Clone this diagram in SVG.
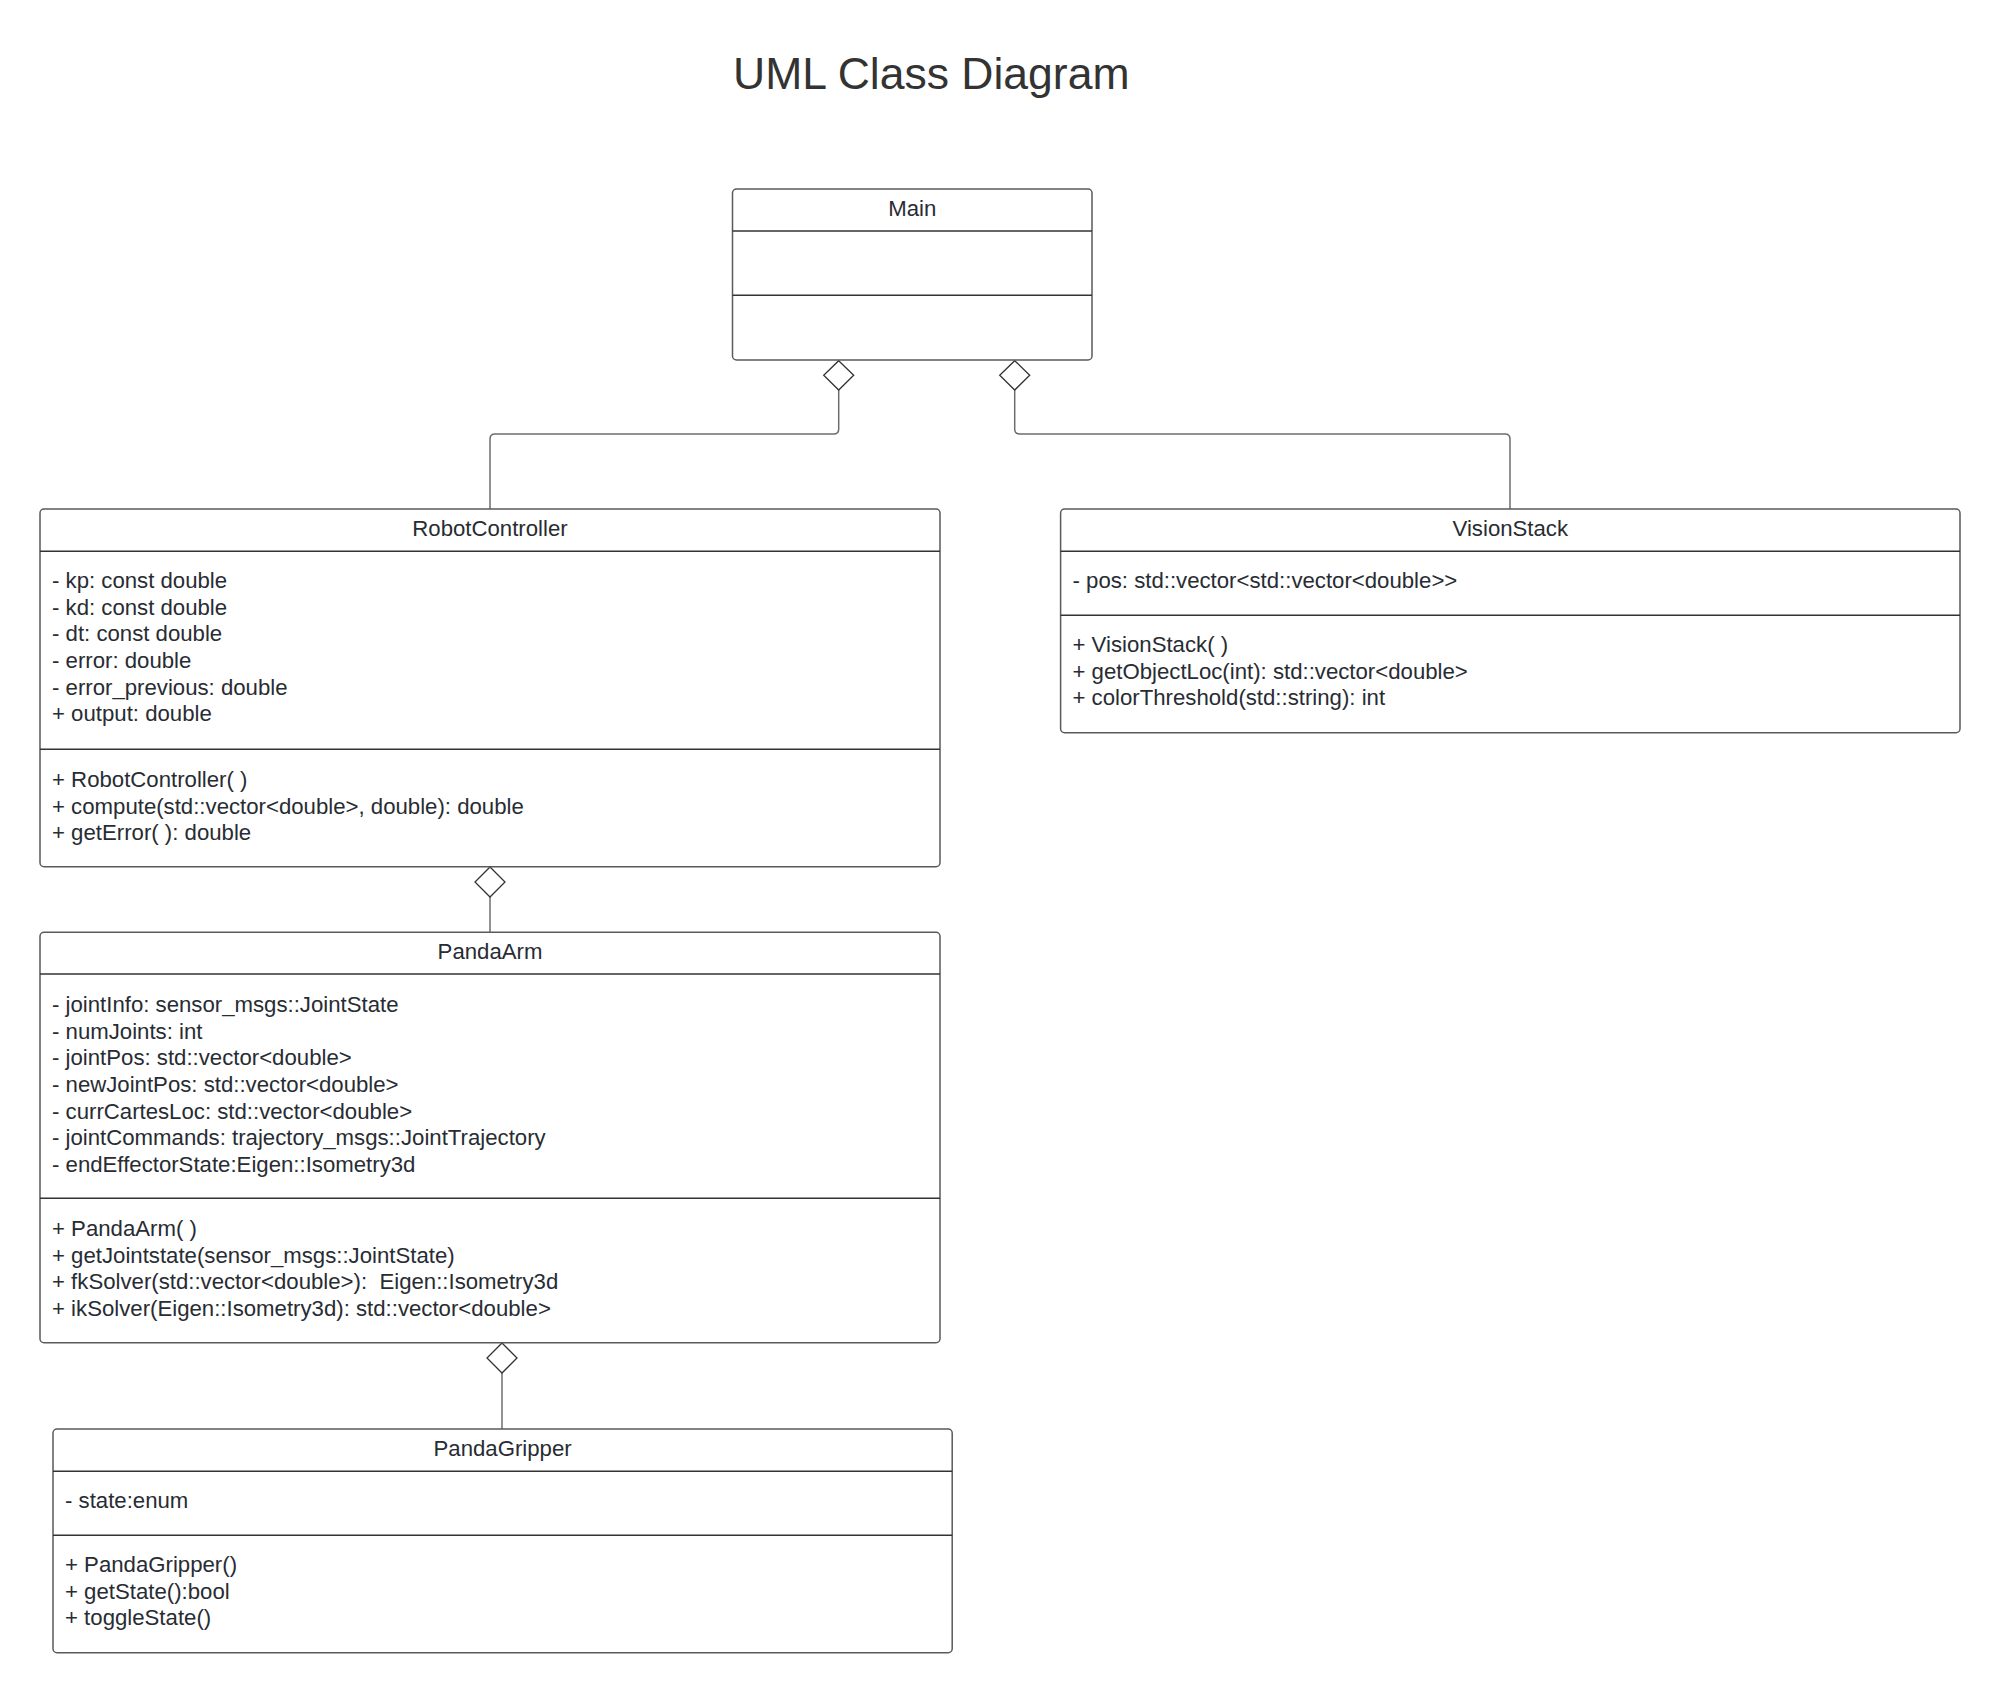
<svg xmlns="http://www.w3.org/2000/svg" width="2000" height="1693" viewBox="0 0 2000 1693">
<style>
.box{fill:#ffffff;stroke:#5a5a5a;stroke-width:1.5}
.div{stroke:#333333;stroke-width:1.5}
.t{font-family:"Liberation Sans",Arial,sans-serif;font-size:22.2px;fill:#282c33;white-space:pre}
.n{text-anchor:middle}
.title{font-family:"Liberation Sans",Arial,sans-serif;font-size:44.5px;fill:#333333}
.con{fill:none;stroke:#6e6e6e;stroke-width:1.5}
.dia{fill:#ffffff;stroke:#333333;stroke-width:1.3}
</style>
<rect width="2000" height="1693" fill="#ffffff"/>
<text class="title" x="733" y="89">UML Class Diagram</text>

<g id="connectors">
<path class="con" d="M838.7 390 V429 Q838.7 434 833.7 434 H495 Q490 434 490 439 V509"/>
<path class="con" d="M1014.7 390 V429 Q1014.7 434 1019.7 434 H1505 Q1510 434 1510 439 V509"/>
<path class="con" d="M490 897 V932.3"/>
<path class="con" d="M502 1373 V1429"/>
<polygon class="dia" points="838.7,360.7 853.7,375.3 838.7,390 823.7,375.3"/>
<polygon class="dia" points="1014.7,360.7 1029.7,375.3 1014.7,390 999.7,375.3"/>
<polygon class="dia" points="490,867 505,882 490,897 475,882"/>
<polygon class="dia" points="502,1343 517,1358 502,1373 487,1358"/>
</g>

<g id="Main">
<rect class="box" x="732.5" y="189" width="359.5" height="171" rx="4"/>
<line class="div" x1="732.5" y1="231" x2="1092" y2="231"/>
<line class="div" x1="732.5" y1="295.3" x2="1092" y2="295.3"/>
<text class="t n" x="912.3" y="215.5">Main</text>
</g>

<g id="RobotController">
<rect class="box" x="40" y="509" width="900" height="357.7" rx="4"/>
<line class="div" x1="40" y1="551.3" x2="940" y2="551.3"/>
<line class="div" x1="40" y1="749.3" x2="940" y2="749.3"/>
<text class="t n" x="490" y="535.5">RobotController</text>
<text class="t" x="52" y="588">- kp: const double</text>
<text class="t" x="52" y="614.7">- kd: const double</text>
<text class="t" x="52" y="641.3">- dt: const double</text>
<text class="t" x="52" y="668">- error: double</text>
<text class="t" x="52" y="694.7">- error_previous: double</text>
<text class="t" x="52" y="721.3">+ output: double</text>
<text class="t" x="52" y="787">+ RobotController( )</text>
<text class="t" x="52" y="813.7">+ compute(std::vector&lt;double&gt;, double): double</text>
<text class="t" x="52" y="840.3">+ getError( ): double</text>
</g>

<g id="VisionStack">
<rect class="box" x="1060.6" y="509" width="899.4" height="223.7" rx="4"/>
<line class="div" x1="1060.6" y1="551.3" x2="1960" y2="551.3"/>
<line class="div" x1="1060.6" y1="615.3" x2="1960" y2="615.3"/>
<text class="t n" x="1510.3" y="535.5">VisionStack</text>
<text class="t" x="1072.5" y="588">- pos: std::vector&lt;std::vector&lt;double&gt;&gt;</text>
<text class="t" x="1072.5" y="652">+ VisionStack( )</text>
<text class="t" x="1072.5" y="678.7">+ getObjectLoc(int): std::vector&lt;double&gt;</text>
<text class="t" x="1072.5" y="705.3">+ colorThreshold(std::string): int</text>
</g>

<g id="PandaArm">
<rect class="box" x="40" y="932.3" width="900" height="410.4" rx="4"/>
<line class="div" x1="40" y1="974" x2="940" y2="974"/>
<line class="div" x1="40" y1="1198.3" x2="940" y2="1198.3"/>
<text class="t n" x="490" y="958.8">PandaArm</text>
<text class="t" x="52" y="1012">- jointInfo: sensor_msgs::JointState</text>
<text class="t" x="52" y="1038.7">- numJoints: int</text>
<text class="t" x="52" y="1065.3">- jointPos: std::vector&lt;double&gt;</text>
<text class="t" x="52" y="1092">- newJointPos: std::vector&lt;double&gt;</text>
<text class="t" x="52" y="1118.7">- currCartesLoc: std::vector&lt;double&gt;</text>
<text class="t" x="52" y="1145.3">- jointCommands: trajectory_msgs::JointTrajectory</text>
<text class="t" x="52" y="1172">- endEffectorState:Eigen::Isometry3d</text>
<text class="t" x="52" y="1236">+ PandaArm( )</text>
<text class="t" x="52" y="1262.7">+ getJointstate(sensor_msgs::JointState)</text>
<text class="t" x="52" y="1289.3">+ fkSolver(std::vector&lt;double&gt;):  Eigen::Isometry3d</text>
<text class="t" x="52" y="1316">+ ikSolver(Eigen::Isometry3d): std::vector&lt;double&gt;</text>
</g>

<g id="PandaGripper">
<rect class="box" x="53" y="1429" width="899.2" height="223.7" rx="4"/>
<line class="div" x1="53" y1="1471.3" x2="952.2" y2="1471.3"/>
<line class="div" x1="53" y1="1535.3" x2="952.2" y2="1535.3"/>
<text class="t n" x="502.6" y="1455.5">PandaGripper</text>
<text class="t" x="65" y="1508">- state:enum</text>
<text class="t" x="65" y="1572">+ PandaGripper()</text>
<text class="t" x="65" y="1598.7">+ getState():bool</text>
<text class="t" x="65" y="1625.3">+ toggleState()</text>
</g>
</svg>
